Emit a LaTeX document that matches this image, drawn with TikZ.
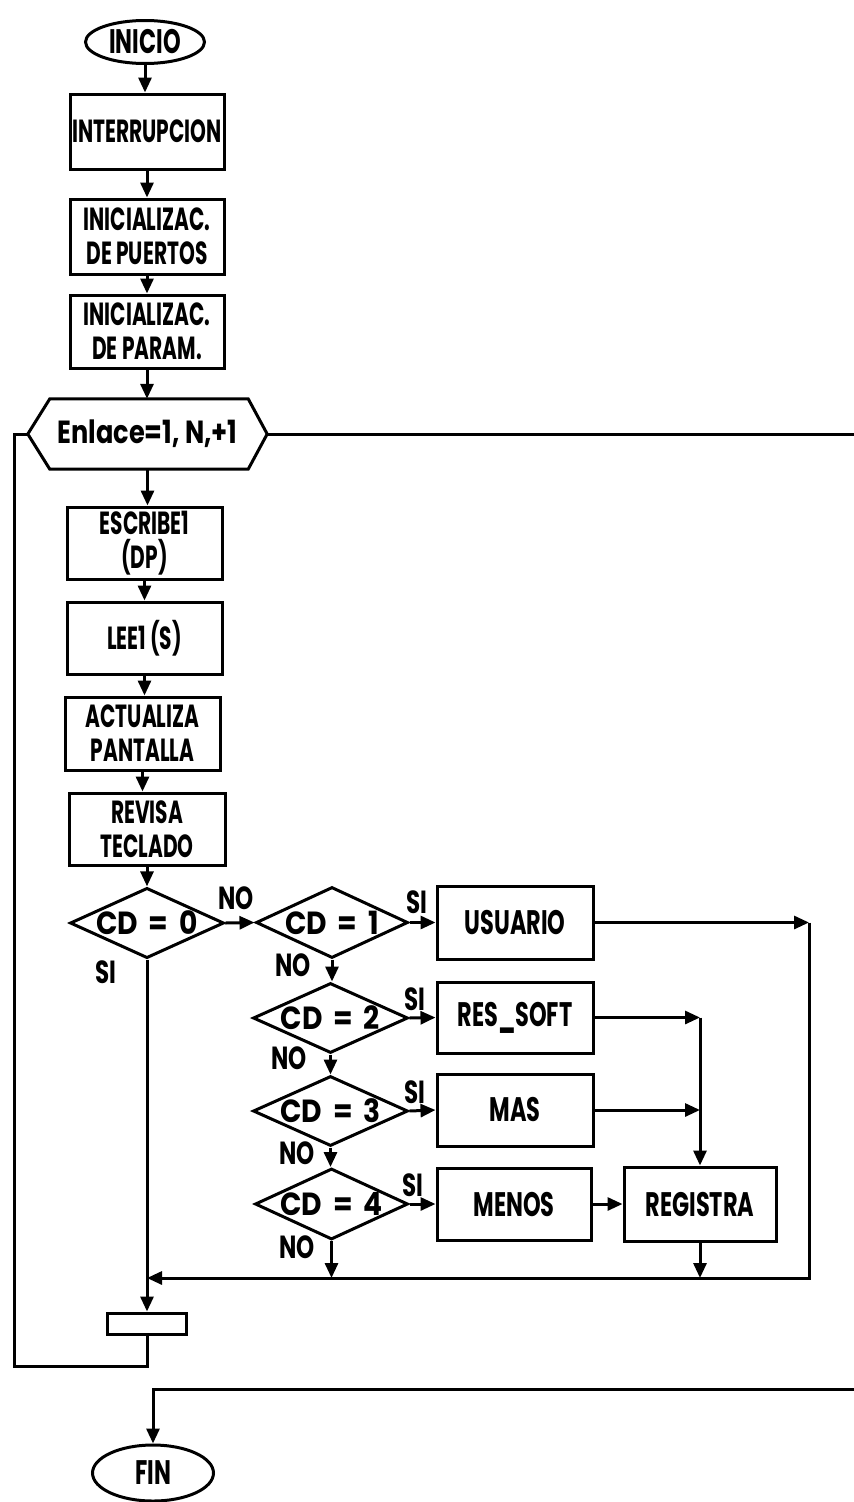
\documentclass[tikz,border=0pt]{standalone}
\usepackage{fontspec}
\setmainfont{Poppins}
\newfontfamily\boxfont{Poppins}[FakeStretch=0.63]
\newfontfamily\rboxfont{Poppins}[FakeStretch=0.66]
\newfontfamily\lblfont{Poppins}[FakeStretch=0.72]
\newfontfamily\hexfont{Poppins}[FakeStretch=0.8]
\newfontfamily\cdfont{Poppins}[FakeStretch=0.88,WordSpace=1.8]
\usetikzlibrary{shapes.geometric,arrows.meta,calc}
\tikzset{
  ln/.style={line width=3pt},
  arr/.style={line width=3pt,-{Triangle[length=15pt,width=13pt]}},
  box/.style={draw,rectangle,line width=3pt,inner sep=0pt,align=center,
    font=\boxfont\bfseries\fontsize{32}{34}\selectfont},
  rbox/.style={box,font=\rboxfont\bfseries\fontsize{34}{36}\selectfont},
  dec/.style={draw,diamond,aspect=2.19,line width=3pt,inner sep=0pt,minimum width=153pt,
    minimum height=70pt,font=\cdfont\bfseries\fontsize{32}{32}\selectfont},
  term/.style={draw,ellipse,line width=3pt,inner sep=0pt,
    font=\rboxfont\bfseries\fontsize{34}{34}\selectfont},
  hexn/.style={inner sep=0pt,minimum width=239pt,minimum height=70pt,
    font=\hexfont\bfseries\fontsize{32}{32}\selectfont},
  lbl/.style={inner sep=0pt,font=\lblfont\bfseries\fontsize{32}{32}\selectfont}
}
\begin{document}
\begin{tikzpicture}[x=1pt,y=-1pt]
\useasboundingbox (0,0) rectangle (854,1502);
% main column
\node[term,minimum width=119pt,minimum height=43pt] (start) at (145,42) {INICIO};
\node[box,minimum width=154pt,minimum height=75pt] (intr) at (147,131.5) {INTERRUPCION};
\node[box,minimum width=154pt,minimum height=75pt] (ipuer) at (147,236.5) {INICIALIZAC.\\DE PUERTOS};
\node[box,minimum width=154pt,minimum height=73pt] (ipar) at (147,331.5) {INICIALIZAC.\\DE PARAM.};
\node[hexn] (hex) at (147.5,434) {Enlace=1, N,+1};
\draw[ln] (hex.west) -- ($(hex.north west)+(22,0)$) -- ($(hex.north east)+(-19,0)$)
  -- (hex.east) -- ($(hex.south east)+(-19,0)$) -- ($(hex.south west)+(22,0)$) -- cycle;
\node[box,minimum width=155pt,minimum height=72pt] (esc) at (144.5,543) {ESCRIBE1\\(DP)};
\node[box,minimum width=155pt,minimum height=72pt] (lee) at (144.5,638) {LEE1 (S)};
\node[box,minimum width=155pt,minimum height=73pt] (act) at (142.5,733.5) {ACTUALIZA\\PANTALLA};
\node[box,minimum width=156pt,minimum height=72pt] (rev) at (147,829) {REVISA\\TECLADO};
% decisions
\node[dec] (d0) at (147,923) {CD = 0};
\node[dec,minimum width=152pt,minimum height=71pt] (d1) at (332,922.5) {CD = 1};
\node[dec,minimum width=155pt] (d2) at (330.5,1018) {CD = 2};
\node[dec,minimum width=155pt] (d3) at (330.5,1111) {CD = 3};
\node[dec,minimum height=71pt] (d4) at (331.5,1204) {CD = 4};
% actions
\node[rbox,minimum width=156pt,minimum height=73pt] (usu) at (515,922.5) {USUARIO};
\node[rbox,minimum width=156pt,minimum height=71pt] (res) at (515,1017.5) {RES\_SOFT};
\node[rbox,minimum width=156pt,minimum height=72pt] (mas) at (515,1110) {MAS};
\node[rbox,minimum width=154pt,minimum height=72pt] (men) at (514,1204) {MENOS};
\node[rbox,minimum width=152pt,minimum height=74pt] (reg) at (700,1204) {REGISTRA};
\node[box,minimum width=79pt,minimum height=21pt] (small) at (147,1323.5) {};
\node[term,minimum width=121pt,minimum height=56pt] (fin) at (153,1473) {FIN};
% coordinates
\coordinate (lp1) at (147,1366);
\coordinate (lp2) at (14,1366);
\coordinate (lp3) at (14,434);
\coordinate (hr) at (854,434);
\coordinate (br) at (854,1389);
\coordinate (bl) at (153,1389);
\coordinate (u1) at (809,922.5);
\coordinate (u2) at (809,1278);
\coordinate (m0) at (147,1278);
\coordinate (r1) at (700,1017.5);
\coordinate (r2) at (700,1110);
\coordinate (r3) at (700,1278);
\coordinate (n4) at (331.5,1278);
% connectors main column
\draw[arr] (start.south) -- (start.south |- intr.north);
\draw[arr] (intr.south) -- (ipuer.north);
\draw[arr] (ipuer.south) -- (ipar.north);
\draw[arr] (ipar.south) -- (ipar.south |- hex.north);
\draw[arr] (hex.south) -- (hex.south |- esc.north);
\draw[arr] (esc.south) -- (lee.north);
\draw[arr] (lee.south) -- (lee.south |- act.north);
\draw[arr] (act.south) -- (act.south |- rev.north);
\draw[arr] (rev.south) -- (rev.south |- d0.north);
% decisions
\draw[arr] (d0.east) -- (d1.west);
\draw[arr] (d1.east) -- (usu.west);
\draw[arr] (d1.south) -- (d1.south |- d2.north);
\draw[arr] (d2.east) -- (res.west);
\draw[arr] (d2.south) -- (d3.north);
\draw[arr] (d3.east) -- (mas.west);
\draw[arr] (d3.south) -- (d3.south |- d4.north);
\draw[arr] (d4.east) -- (men.west);
\draw[arr] (men.east) -- (reg.west);
% collection lines
\draw[arr] (usu.east) -- (u1);
\draw[arr] (u1) -- (u2) -- (m0);
\draw[arr] (res.east) -- (r1);
\draw[arr] (mas.east) -- (r2);
\draw[arr] (r1) -- (reg.north);
\draw[arr] (reg.south) -- (r3);
\draw[arr] (d4.south) -- (n4);
\draw[arr] (d0.south) -- (small.north);
% loop
\draw[ln] (small.south) -- (lp1) -- (lp2) -- (lp3) -- (hex.west);
\draw[ln] (hex.east) -- (hr);
\draw[arr] (br) -- (bl) -- (fin.north);
% labels
\node[lbl] (l0n) at (236,898) {NO};
\node[lbl] (l0s) at (106,972) {SI};
\node[lbl] (l1s) at (417,902) {SI};
\node[lbl] (l1n) at (293,965) {NO};
\node[lbl] (l2s) at (415,999) {SI};
\node[lbl] (l2n) at (289,1058) {NO};
\node[lbl] (l3s) at (415,1092) {SI};
\node[lbl] (l3n) at (297,1153) {NO};
\node[lbl] (l4s) at (413,1185) {SI};
\node[lbl] (l4n) at (297,1247) {NO};
\end{tikzpicture}
\end{document}
